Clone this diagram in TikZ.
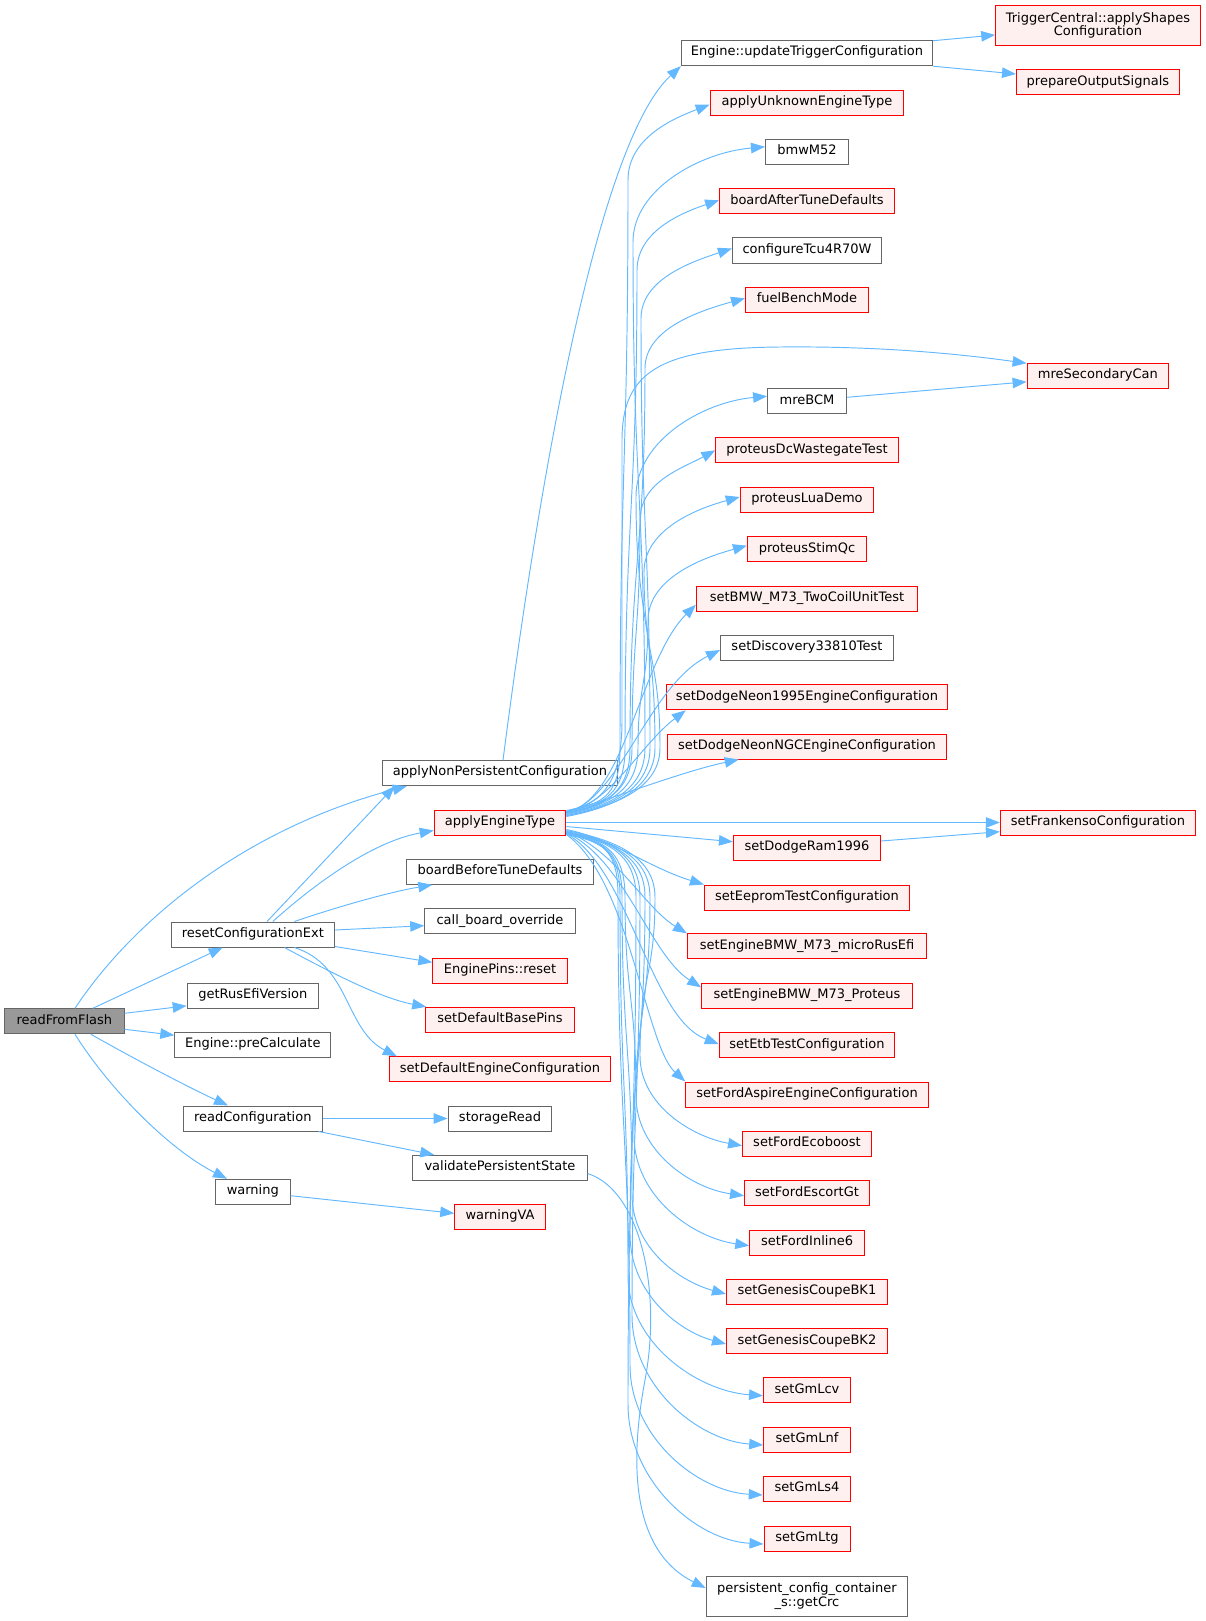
\documentclass[tikz,border=0pt]{standalone}
\usepackage{fontspec}
\setmainfont{DejaVu Sans}
\usetikzlibrary{arrows.meta,calc}
\definecolor{edgec}{HTML}{63B8FF}
\definecolor{grayb}{HTML}{666666}
\definecolor{redfill}{HTML}{FFF0F0}
\definecolor{rootfill}{HTML}{999999}
\tikzset{
  base/.style={rectangle, line width=1pt, inner xsep=1pt, inner ysep=0pt, font=\fontsize{13}{13.4}\selectfont},
  nb/.style={base, draw=grayb, fill=white, minimum height=25pt, text height=9pt, text depth=3.5pt},
  nr/.style={nb, draw=red, fill=redfill},
  nroot/.style={nb, fill=rootfill},
  e/.style={draw=edgec, line width=0.95pt, -{Triangle[length=14pt,width=10.5pt]}}
}
% upper fan from applyEngineType: #1 node, #2 y offset of tip, #3 tx, #4 tip y, #5 upper trunk x, #6 q, #7 angle, #8 lower trunk x, #9 exit offset
\newcommand\fanU[9]{\draw[e] ($(aet.east)+(0,#9)$) .. controls (606,{815+#9}) and (#8,792) .. (#8,748) .. controls (#8,{(748+#4+#6)/2}) and (#5,{(748+#4+#6)/2}) .. (#5,{#4+#6}) .. controls (#5,{#4+0.45*#6}) and ($(#3,#4)+(180-#7:{0.5*(#3-#5)})$) .. ($(#1.west)+(0,#2)$);}
\newcommand\fanD[9]{\draw[e] ($(aet.east)+(0,#9)$) .. controls (606,{830+#9}) and (#8,853) .. (#8,897) .. controls (#8,{(897+#4-#6)/2}) and (#5,{(897+#4-#6)/2}) .. (#5,{#4-#6}) .. controls (#5,{#4-0.45*#6}) and ($(#3,#4)+(180+#7:{0.5*(#3-#5)})$) .. ($(#1.west)+(0,#2)$);}
\begin{document}
\begin{tikzpicture}[x=1pt,y=-1pt]
\useasboundingbox (0,0) rectangle (1205,1621);
% column 1
\node[nroot, minimum width=119.3pt] (rff) at (64.4,1021.3) {readFromFlash};
\node[nb, minimum width=163.2pt] (rce) at (252.8,934.5) {resetConfigurationExt};
\node[nb, minimum width=131.2pt] (grev) at (252.8,995.8) {getRusEfiVersion};
\node[nb, minimum width=156pt] (epc) at (252.8,1045.2) {Engine::preCalculate};
\node[nb, minimum width=138.7pt] (rc) at (252.8,1118.5) {readConfiguration};
\node[nb, minimum width=74.7pt] (warn) at (252.8,1191.7) {warning};
% column 2
\node[nb, minimum width=235.5pt] (anpc) at (500,773.2) {applyNonPersistentConfiguration};
\node[nr, minimum width=131.6pt] (aet) at (500,822.5) {applyEngineType};
\node[nb, minimum width=186.5pt] (bbtd) at (500,871.8) {boardBeforeTuneDefaults};
\node[nb, minimum width=150.5pt] (cbo) at (500,921.3) {call\_board\_override};
\node[nr, minimum width=134.3pt] (epr) at (500,970.7) {EnginePins::reset};
\node[nr, minimum width=149pt] (sdbp) at (500,1019.8) {setDefaultBasePins};
\node[nr, minimum width=221.3pt] (sdec) at (500,1069.3) {setDefaultEngineConfiguration};
\node[nb, minimum width=103.9pt] (sr) at (500,1118.5) {storageRead};
\node[nb, minimum width=174.6pt] (vps) at (500,1167.8) {validatePersistentState};
\node[nr, minimum width=90.5pt] (wva) at (500,1217) {warningVA};
% column 3
\node[nb, minimum width=251.4pt] (ut) at (807,53.2) {Engine::updateTriggerConfiguration};
\node[nr, minimum width=193.7pt] (auet) at (807,102.7) {applyUnknownEngineType};
\node[nb, minimum width=83.1pt] (bmw) at (807,151.8) {bmwM52};
\node[nr, minimum width=174.7pt] (batd) at (807,201.3) {boardAfterTuneDefaults};
\node[nb, minimum width=149.2pt] (ct4) at (807,250.5) {configureTcu4R70W};
\node[nr, minimum width=122.9pt] (fbm) at (807,299.8) {fuelBenchMode};
\node[nb, minimum width=78.8pt] (mbcm) at (807,401.3) {mreBCM};
\node[nr, minimum width=182.3pt] (pdc) at (807,450.3) {proteusDcWastegateTest};
\node[nr, minimum width=133.5pt] (plua) at (807,500) {proteusLuaDemo};
\node[nr, minimum width=119.1pt] (psq) at (807,549.3) {proteusStimQc};
\node[nr, minimum width=221.3pt] (sbmw) at (807,598.7) {setBMW\_M73\_TwoCoilUnitTest};
\node[nb, minimum width=173pt] (sdisc) at (807,648) {setDiscovery33810Test};
\node[nr, minimum width=281.5pt] (sdn95) at (807,697.3) {setDodgeNeon1995EngineConfiguration};
\node[nr, minimum width=278.5pt] (sdnngc) at (807,746.5) {setDodgeNeonNGCEngineConfiguration};
\node[nr, minimum width=147.1pt] (sdr) at (807,847.7) {setDodgeRam1996};
\node[nr, minimum width=205.2pt] (seep) at (807,897.5) {setEepromTestConfiguration};
\node[nr, minimum width=239pt] (smicro) at (807,946.4) {setEngineBMW\_M73\_microRusEfi};
\node[nr, minimum width=210.7pt] (sprot) at (807,995.9) {setEngineBMW\_M73\_Proteus};
\node[nr, minimum width=175.5pt] (setb) at (807,1045.4) {setEtbTestConfiguration};
\node[nr, minimum width=242.5pt] (sfa) at (807,1094.5) {setFordAspireEngineConfiguration};
\node[nr, minimum width=128.9pt] (sfe) at (807,1143.9) {setFordEcoboost};
\node[nr, minimum width=125pt] (sfeg) at (807,1193.4) {setFordEscortGt};
\node[nr, minimum width=114.5pt] (sfi6) at (807,1242.5) {setFordInline6};
\node[nr, minimum width=161pt] (sgb1) at (807,1291.8) {setGenesisCoupeBK1};
\node[nr, minimum width=161pt] (sgb2) at (807,1341.3) {setGenesisCoupeBK2};
\node[nr, minimum width=86.9pt] (slcv) at (807,1390.4) {setGmLcv};
\node[nr, minimum width=86.5pt] (slnf) at (807,1440) {setGmLnf};
\node[nr, minimum width=87.5pt] (sls4) at (807,1489.2) {setGmLs4};
\node[nr, minimum width=86pt] (sltg) at (807,1538.5) {setGmLtg};
\node[base, draw=grayb, fill=white, minimum width=201.7pt, minimum height=40pt, align=center] (crc) at (807,1596) {persistent\_config\_container\\\_s::getCrc};
% column 4
\node[base, draw=red, fill=redfill, minimum width=204.3pt, minimum height=40.3pt, align=center] (tc) at (1097.9,25.2) {TriggerCentral::applyShapes\\Configuration};
\node[nr, minimum width=162.8pt] (pos) at (1097.9,82.5) {prepareOutputSignals};
\node[nr, minimum width=141.6pt] (msc) at (1097.9,375.8) {mreSecondaryCan};
\node[nr, minimum width=195pt] (sfr) at (1097.9,822.5) {setFrankensoConfiguration};
% edges from readFromFlash
\draw[e] ($(rff.north)+(10.6,0)$) .. controls (130,925) and (240,830) .. ($(anpc.south west)+(25,0)$);
\draw[e] ($(rff.north)+(28.4,0)$) -- ($(rce.south west)+(52,0)$);
\draw[e] ($(rff.east)+(0,-8)$) -- ($(grev.west)+(0,10)$);
\draw[e] ($(rff.east)+(0,8)$) -- ($(epc.west)+(0,-10)$);
\draw[e] ($(rff.south)+(26.5,0)$) .. controls (140,1062) and (190,1088) .. ($(rc.north)+(-24.8,0)$);
\draw[e] ($(rff.south)+(10.6,0)$) .. controls (110,1090) and (170,1150) .. ($(warn.north)+(-25.8,0)$);
% edges from resetConfigurationExt
\draw[e] ($(rce.north)+(14.2,0)$) -- ($(anpc.south west)+(13,0)$);
\draw[e] ($(rce.north)+(20,0)$) .. controls (310,888) and (370,842) .. ($(aet.west)+(0,8)$);
\draw[e] ($(rce.north)+(41.6,0)$) .. controls (340,906) and (390,892) .. ($(bbtd.south west)+(26,0)$);
\draw[e] ($(rce.east)+(0,-4.5)$) -- ($(cbo.west)+(0,4.4)$);
\draw[e] ($(rce.east)+(0,12)$) -- ($(epr.west)+(0,-8.4)$);
\draw[e] ($(rce.south)+(31.7,0)$) .. controls (330,972) and (380,998) .. ($(sdbp.north west)+(1.2,0)$);
\draw[e] ($(rce.south)+(41.6,0)$) .. controls (350,965) and (345,1030) .. ($(sdec.north west)+(8,0)$);
% readConfiguration, warning, validatePersistentState
\draw[e] (rc.east) -- (sr.west);
\draw[e] ($(rc.south east)+(-4,0)$) -- ($(vps.north west)+(22,0)$);
\draw[e] ($(warn.east)+(0,4)$) -- ($(wva.west)+(0,-3.7)$);
\draw[e] ($(vps.east)+(0,5.8)$) .. controls (640,1190) and (662,1290) .. (645,1380) .. controls (630,1460) and (630,1550) .. ($(crc.west)+(0,-8)$);
% applyNonPersistentConfiguration and updateTriggerConfiguration
\draw[e] ($(anpc.north)+(3,0)$) .. controls (530,550) and (590,150) .. (ut.south west);
\draw[e] ($(ut.east)+(0,-12.5)$) -- ($(tc.west)+(0,9.8)$);
\draw[e] (ut.south east) -- ($(pos.west)+(0,-8.5)$);
\draw[e] ($(mbcm.east)+(0,-4)$) -- ($(msc.west)+(0,6)$);
\draw[e] ($(sdr.east)+(0,-6.7)$) -- ($(sfr.west)+(0,9.2)$);
% applyEngineType fan, upper part
\fanU{auet}{2}{710.15}{105}{628}{75}{20}{620}{-11}
\fanU{bmw}{-5}{765.45}{146.8}{633}{95}{5}{645}{-8}
\fanU{batd}{-1}{719.65}{200.3}{637}{70}{18}{625}{-10}
\fanU{ct4}{-2}{732.4}{248.5}{641}{70}{18}{650}{-7}
\fanU{fbm}{-1.5}{745.55}{298.3}{645}{70}{15}{630}{-9}
\fanU{mbcm}{-5}{767.6}{396.3}{636}{100}{5}{655}{-6}
\fanU{pdc}{0}{715.85}{450.3}{640}{70}{28}{632}{-10}
\fanU{plua}{-3}{740.25}{497}{644}{75}{15}{660}{-7}
\fanU{psq}{-3.6}{747.45}{545.7}{648}{75}{15}{638}{-9}
\draw[e] ($(aet.east)+(0,-12)$) .. controls (604,804) and (622,780) .. (622,720) -- (622,440) .. controls (622,372) and (660,348) .. (780,347) .. controls (880,346) and (960,354) .. ($(msc.west)+(0,-12.5)$);
\draw[e] ($(aet.east)+(0,-10)$) .. controls (625,800) and (640,660) .. ($(sbmw.west)+(0,6)$);
\draw[e] ($(aet.east)+(0,-10)$) .. controls (620,800) and (648,686) .. ($(sdisc.west)+(0,2)$);
\draw[e] ($(aet.east)+(0,-10)$) .. controls (610,805) and (640,745) .. ($(sdn95.south west)+(20,0)$);
\draw[e] ($(aet.east)+(0,-11)$) .. controls (610,800) and (680,772) .. ($(sdnngc.south west)+(71.5,0)$);
\draw[e] (aet.east) -- (sfr.west);
\draw[e] ($(aet.east)+(0,4)$) -- ($(sdr.west)+(0,-6)$);
% applyEngineType fan, lower part
\draw[e] ($(aet.east)+(0,7)$) .. controls (610,838) and (650,868) .. (seep.north west);
\draw[e] ($(aet.east)+(0,9)$) .. controls (615,850) and (645,908) .. (smicro.north west);
\draw[e] ($(aet.east)+(0,10)$) .. controls (625,860) and (650,955) .. ($(sprot.west)+(0,-8.5)$);
\draw[e] ($(aet.east)+(0,11)$) .. controls (630,870) and (650,1018) .. ($(setb.west)+(0,-1.4)$);
\draw[e] ($(aet.east)+(0,12)$) .. controls (630,880) and (645,1045) .. (sfa.north west);
\fanD{sfe}{1.8}{742.55}{1145.7}{640}{90}{10}{655}{8}
\fanD{sfeg}{2.3}{744.5}{1195.7}{636}{100}{8}{625}{10}
\fanD{sfi6}{3.2}{749.75}{1245.7}{634}{110}{8}{650}{9}
\fanD{sgb1}{2.2}{726.5}{1294}{632}{100}{15}{622}{11}
\fanD{sgb2}{2.7}{726.5}{1344}{630}{110}{15}{645}{10}
\fanD{slcv}{5.3}{763.55}{1395.7}{628}{120}{4}{620}{12}
\fanD{slnf}{5}{763.75}{1445}{632}{130}{4}{640}{9}
\fanD{sls4}{5.8}{763.25}{1495}{630}{130}{3}{618}{11}
\fanD{sltg}{5.5}{764}{1544}{628}{140}{3}{636}{10}
\end{tikzpicture}
\end{document}
